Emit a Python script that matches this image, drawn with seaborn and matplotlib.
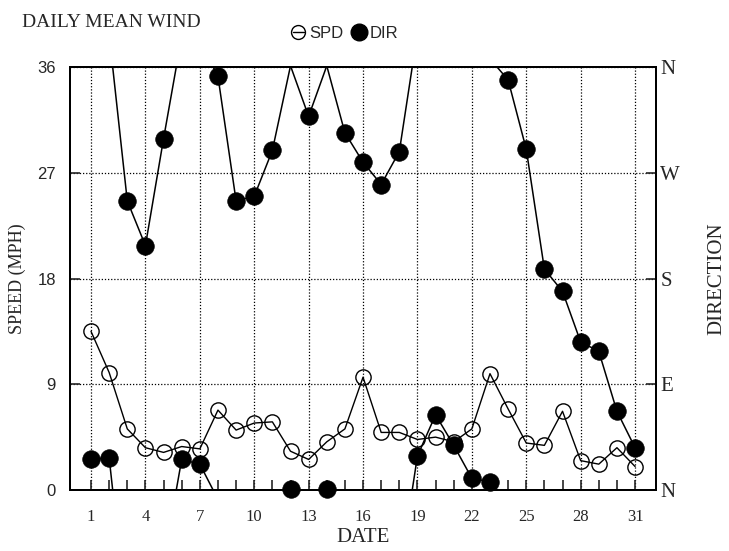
import numpy as np
import pandas as pd
import matplotlib
matplotlib.use("Agg")
import matplotlib.pyplot as plt
from matplotlib.lines import Line2D
import seaborn as sns

# daily mean wind, days 1..31
days = list(range(1, 32))
speed = [13.5, 10.0, 5.2, 3.6, 3.2, 3.7, 3.5, 6.8, 5.1, 5.7, 5.8, 3.3, 2.6, 4.1, 5.2, 9.6,
         4.9, 4.9, 4.3, 4.5, 4.1, 5.2, 9.9, 6.9, 4.0, 3.8, 6.7, 2.5, 2.2, 3.6, 2.0]
# direction in degrees / 10 (0 = N, 9 = E, 18 = S, 27 = W, 36 = N)
direction = [2.6, 2.75, 24.6, 20.8, 29.9, 2.6, 2.2, 35.2, 24.6, 25.0, 28.9, 0.1, 31.8, 0.1,
             30.4, 27.9, 26.0, 28.8, 2.9, 6.4, 3.8, 1.0, 0.7, 34.9, 29.0, 18.8, 16.9, 12.6,
             11.8, 6.7, 3.6]
date_ticks = [1, 4, 7, 10, 13, 16, 19, 22, 25, 28, 31]
speed_ticks = [0, 9, 18, 27, 36]
dir_labels = ["N", "E", "S", "W", "N"]

df = pd.DataFrame({"day": days, "speed": speed, "dir": direction})

sns.set_style("ticks")
plt.rcParams["font.family"] = ["Liberation Serif", "DejaVu Serif"]

fig = plt.figure(figsize=(7.29, 5.51), dpi=100)
ax = fig.add_axes([0.096, 0.1107, 0.804, 0.7677])

# direction: connect days along the shortest way round the compass
for i in range(len(days) - 1):
    a, b = direction[i], direction[i + 1]
    d = b - a
    if d > 18:
        d -= 36
    elif d < -18:
        d += 36
    for shift in (-36, 0, 36):
        ax.plot([days[i], days[i + 1]], [a + shift, a + d + shift], color="black", lw=1.1, zorder=2)

sns.scatterplot(data=df, x="day", y="dir", ax=ax, color="black", s=160, marker="o",
                edgecolor="black", linewidth=0.5, zorder=4, clip_on=False)

sns.lineplot(data=df, x="day", y="speed", ax=ax, color="black", lw=1.0, marker="o",
             markersize=11, markerfacecolor="none", markeredgecolor="black",
             markeredgewidth=1.0, zorder=3, clip_on=False)

ax.set_xlim(-0.16, 32.16)
ax.set_ylim(0, 36)
ax.set_xticks(date_ticks)
ax.set_xticks(days, minor=True)
ax.set_yticks(speed_ticks)
ax.tick_params(axis="x", which="both", direction="in", length=7, width=1.2, labelsize=12, pad=14)
ax.tick_params(axis="y", direction="in", length=7, width=1.2, labelsize=12, pad=10)
for lab in ax.get_yticklabels():
    lab.set_family("Liberation Sans")
ax.grid(True, which="major", color="black", linestyle=(0, (1, 1.5)), linewidth=0.9)
ax.set_xlabel("DATE", fontsize=15, labelpad=2)
ax.set_ylabel("SPEED (MPH)", fontsize=13, labelpad=8)
for sp in ax.spines.values():
    sp.set_linewidth(1.4)
    sp.set_color("black")

ax2 = ax.twinx()
ax2.set_ylim(0, 36)
ax2.set_yticks(speed_ticks)
ax2.set_yticklabels(dir_labels)
ax2.tick_params(axis="y", direction="in", length=7, width=1.2, labelsize=15, pad=3)
ax2.set_ylabel("DIRECTION", fontsize=15, labelpad=20)
for sp in ax2.spines.values():
    sp.set_linewidth(1.4)
    sp.set_color("black")

fig.text(0.03, 0.96, "DAILY MEAN WIND", fontsize=14, va="center", ha="left")

handles = [
    Line2D([], [], color="black", lw=1.0, marker="o", markersize=10, markerfacecolor="none"),
    Line2D([], [], color="black", lw=0, marker="o", markersize=12),
]
fig.legend(handles, ["SPD", "DIR"], loc="center", bbox_to_anchor=(0.474, 0.94), ncol=2,
           frameon=False, handlelength=0.7, handletextpad=0.3, columnspacing=0.6,
           prop={"family": "Liberation Sans", "size": 12})

fig.savefig("out.png", dpi=100)
